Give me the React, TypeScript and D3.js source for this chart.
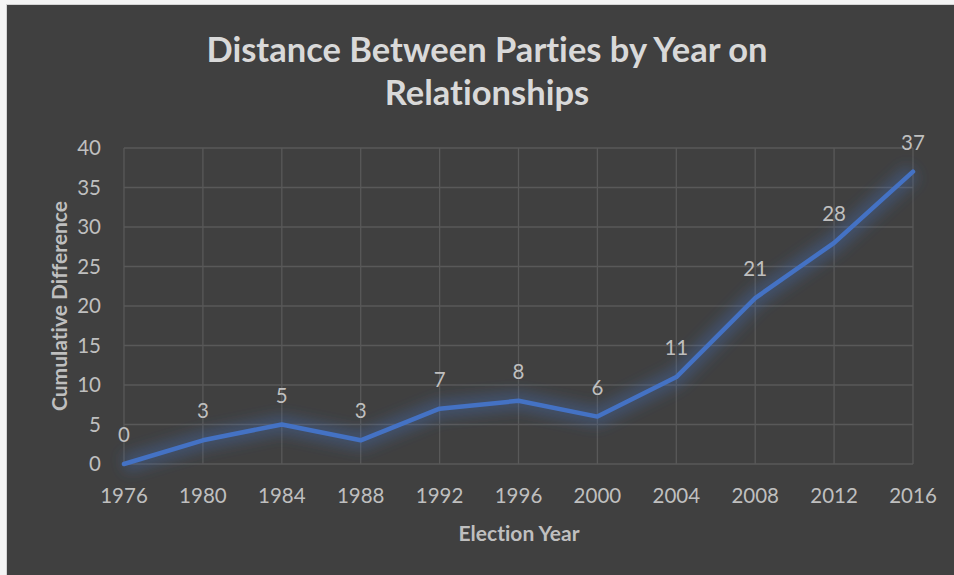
import React from "react";
import * as d3 from "d3";

const years = ["1976", "1980", "1984", "1988", "1992", "1996", "2000", "2004", "2008", "2012", "2016"];
const cumulativeDifference = [0, 3, 5, 3, 7, 8, 6, 11, 21, 28, 37];
const yTicks = [0, 5, 10, 15, 20, 25, 30, 35, 40];
const titleLines = ["Distance Between Parties by Year on", "Relationships"];
const xAxisTitle = "Election Year";
const yAxisTitle = "Cumulative Difference";

const W = 954;
const H = 575;
const FONT = "Lato, 'Open Sans', sans-serif";
// plain glyphs only: a small non-zero letter spacing keeps Chrome from forming ligatures
const noLigatures: React.CSSProperties = {
  fontVariantLigatures: "none",
  fontFeatureSettings: '"liga" 0, "clig" 0, "dlig" 0',
  letterSpacing: "0.01px",
};

export default function App() {
  const x = d3.scalePoint<string>().domain(years).range([124, 913]);
  const y = d3.scaleLinear().domain([0, 40]).range([464, 148]);
  const points = years.map((yr, i) => ({ yr, v: cumulativeDifference[i] }));
  const line = d3
    .line<{ yr: string; v: number }>()
    .x((d) => x(d.yr) as number)
    .y((d) => y(d.v));
  const path = line(points) || "";

  return (
    <svg
      width={W}
      height={H}
      style={{ position: "absolute", left: 0, top: 0, display: "block", ...noLigatures }}
      fontFamily={FONT}
    >
      <defs>
        <filter id="glow" x="-20%" y="-50%" width="140%" height="200%">
          <feGaussianBlur stdDeviation="7" />
        </filter>
      </defs>
      <rect x={0} y={0} width={W} height={H} fill="#f4f4f4" />
      <rect x={6} y={4} width={W - 6} height={H - 4} fill="#d4d4d4" />
      <rect x={7} y={5} width={W - 7} height={H - 5} fill="#404040" />

      {titleLines.map((t, i) => (
        <text
          key={t}
          x={487}
          y={62 + i * 43}
          textAnchor="middle"
          fontSize={34.5}
          fontWeight="bold"
          fill="#d9d9d9"
          style={noLigatures}
        >
          {t}
        </text>
      ))}

      {/* gridlines */}
      {yTicks.map((t) => (
        <line key={"h" + t} x1={124} x2={913} y1={y(t)} y2={y(t)} stroke="#595959" strokeWidth={1.3} />
      ))}
      {years.map((yr) => (
        <line key={"v" + yr} x1={x(yr)} x2={x(yr)} y1={148} y2={464} stroke="#595959" strokeWidth={1.3} />
      ))}

      {/* y tick labels */}
      {yTicks.map((t) => (
        <text key={"yt" + t} x={101} y={y(t) + 7} textAnchor="end" fontSize={20.5} fill="#bfbfbf">
          {t}
        </text>
      ))}
      {/* x tick labels */}
      {years.map((yr) => (
        <text key={"xt" + yr} x={x(yr)} y={503} textAnchor="middle" fontSize={20.5} fill="#bfbfbf">
          {yr}
        </text>
      ))}

      {/* axis titles */}
      <text x={519} y={541} textAnchor="middle" fontSize={21} fontWeight="bold" fill="#bfbfbf">
        {xAxisTitle}
      </text>
      <text
        transform={`translate(67, 306) rotate(-90)`}
        textAnchor="middle"
        fontSize={21}
        fontWeight="bold"
        fill="#bfbfbf"
      >
        {yAxisTitle}
      </text>

      {/* series */}
      <path d={path} fill="none" stroke="#4472c4" strokeOpacity={0.35} strokeWidth={18} filter="url(#glow)" strokeLinejoin="round" />
      <path d={path} fill="none" stroke="#4472c4" strokeWidth={4.5} strokeLinejoin="round" strokeLinecap="round" />

      {/* data labels */}
      {points.map((p) => (
        <text
          key={"dl" + p.yr}
          x={x(p.yr)}
          y={y(p.v) - 22}
          textAnchor="middle"
          fontSize={20.5}
          fill="#bfbfbf"
        >
          {p.v}
        </text>
      ))}
    </svg>
  );
}
